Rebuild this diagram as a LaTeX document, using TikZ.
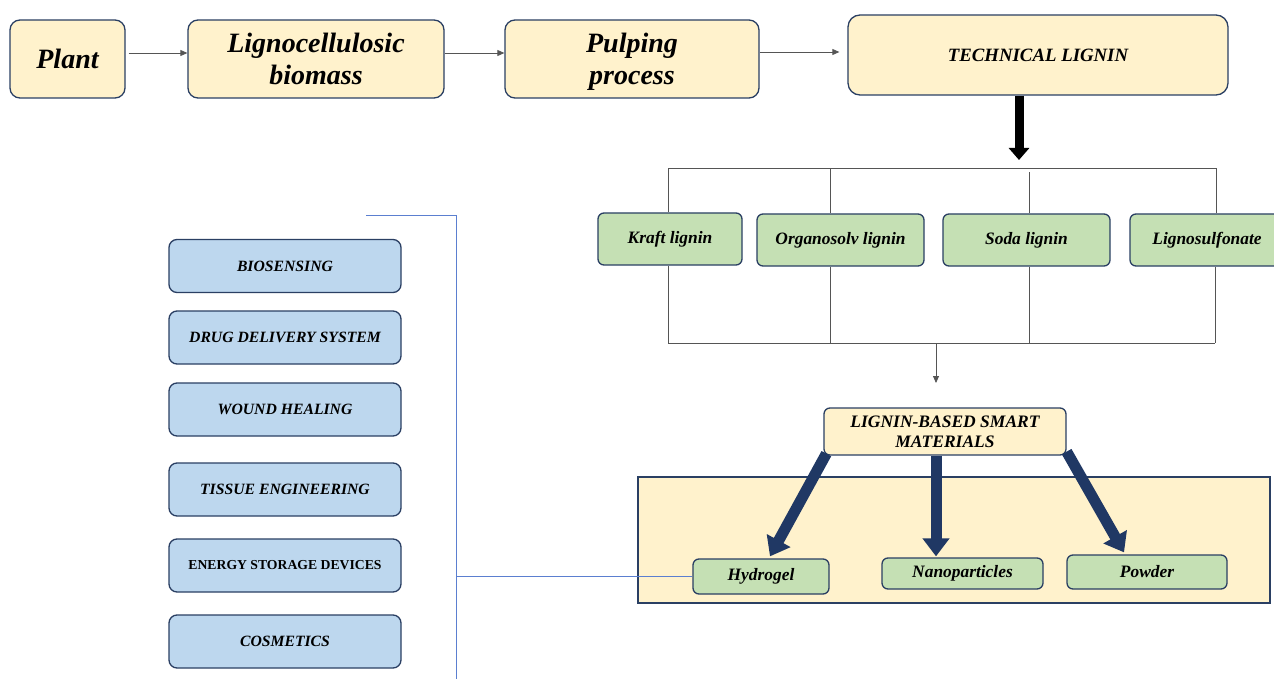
\documentclass[tikz,border=0pt]{standalone}
\usepackage{fontspec}
\setmainfont{Liberation Serif}
\usetikzlibrary{arrows.meta}
\definecolor{beige}{HTML}{FFF2CC}
\definecolor{greenf}{HTML}{C5E0B4}
\definecolor{bluef}{HTML}{BDD7EE}
\definecolor{navyb}{HTML}{2A3F63}
\definecolor{navyarr}{HTML}{203864}
\definecolor{blueline}{HTML}{5B7FD0}
\definecolor{grayline}{HTML}{555555}
\tikzset{
  base/.style={draw=navyb, line width=1.3pt, align=center, inner sep=2pt},
  topbox/.style={base, rounded corners=10pt, fill=beige, font=\bfseries\itshape\fontsize{28}{32}\selectfont},
  techbox/.style={base, rounded corners=12pt, fill=beige, font=\bfseries\itshape\fontsize{18.8}{22}\selectfont},
  greenbox/.style={base, rounded corners=6pt, fill=greenf, font=\bfseries\itshape\fontsize{17.4}{20}\selectfont},
  bluebox/.style={base, rounded corners=8pt, fill=bluef, minimum width=232pt, minimum height=53pt, font=\bfseries\itshape\fontsize{15.7}{18}\selectfont},
  smartbox/.style={base, rounded corners=6pt, fill=beige, font=\bfseries\itshape\fontsize{17.5}{20}\selectfont},
  thinarrow/.style={draw=grayline, line width=0.8pt, -{Triangle[width=6pt,length=7pt]}},
  bracketline/.style={draw=grayline, line width=0.8pt},
  blackarrow/.style={draw=black, line width=9pt, -{Triangle[width=20pt,length=12pt]}},
  navyarrow/.style={draw=navyarr, line width=11pt, -{Triangle[width=26pt,length=18pt]}},
  bluelinestyle/.style={draw=blueline, line width=0.8pt},
}
\begin{document}
\begin{tikzpicture}[x=1pt,y=-1pt]
\useasboundingbox (0,0) rectangle (1274,679);
% top row
\node[topbox, minimum width=115pt, minimum height=78pt] (plant) at (67.5,59) {Plant};
\node[topbox, minimum width=256pt, minimum height=78pt] (ligno) at (316,59) {Lignocellulosic\\biomass};
\node[topbox, minimum width=254pt, minimum height=78pt, text depth=0pt] (pulp) at (632,59) {Pulping\\process};
\node[techbox, minimum width=380pt, minimum height=80pt] (tech) at (1038,55) {TECHNICAL LIGNIN};
\draw[thinarrow] ([yshift=6pt,xshift=3pt]plant.east) -- ([yshift=6pt]ligno.west);
\draw[thinarrow] ([yshift=6pt]ligno.east) -- ([yshift=6pt]pulp.west);
\draw[thinarrow] ([yshift=7pt]pulp.east) -- ([yshift=3pt,xshift=-8pt]tech.west);
\coordinate (tarr) at (1019,160);
\draw[blackarrow] (tech.south -| tarr) -- (tarr);
% lignin types
\node[greenbox, minimum width=144pt, minimum height=52pt] (kraft) at (670,239) {Kraft lignin};
\node[greenbox, minimum width=167pt, minimum height=52pt] (organo) at (840.5,240) {Organosolv lignin};
\node[greenbox, minimum width=167pt, minimum height=52pt] (soda) at (1026.5,240) {Soda lignin};
\node[greenbox, minimum width=154pt, minimum height=52pt] (sulf) at (1207,240) {Lignosulfonate};
\coordinate (tl) at (668,168);
\coordinate (tr) at (1216,168);
\coordinate (bl) at (668,343);
\coordinate (br) at (1215,343);
\coordinate (v2) at (830,0);
\coordinate (v3) at (1029,0);
\draw[bracketline] (tl) -- (tr);
\draw[bracketline] (bl) -- (br);
\draw[bracketline] (kraft.north -| tl) -- (tl);
\draw[bracketline] (organo.north -| v2) -- (tl -| v2);
\draw[bracketline] (soda.north -| v3) -- ([yshift=-4pt]tl -| v3);
\draw[bracketline] (sulf.north -| tr) -- (tr);
\draw[bracketline] (kraft.south -| bl) -- (bl);
\draw[bracketline] (organo.south -| v2) -- (bl -| v2);
\draw[bracketline] (soda.south -| v3) -- (bl -| v3);
\draw[bracketline] (sulf.south -| br) -- (br);
\coordinate (mids) at (936,343);
\coordinate (mide) at (936,383);
\draw[thinarrow] (mids) -- (mide);
% smart materials
\node[smartbox, minimum width=242pt, minimum height=47pt] (smart) at (945,431.5) {LIGNIN-BASED SMART\\MATERIALS};
\draw[draw=navyb, line width=1.3pt, fill=beige] (638,477) rectangle (1270,603);
\node[greenbox, minimum width=136pt, minimum height=35pt] (hydro) at (761,576.5) {Hydrogel};
\node[greenbox, minimum width=161pt, minimum height=31pt] (nano) at (962.5,573.5) {Nanoparticles};
\node[greenbox, minimum width=160pt, minimum height=34pt] (powder) at (1147,572) {Powder};
\coordinate (marr) at (936,0);
\draw[navyarrow] ([xshift=3pt,yshift=2pt]smart.south west) -- ([xshift=9pt,yshift=2pt]hydro.north);
\draw[navyarrow] (smart.south -| marr) -- ([yshift=1pt]nano.north -| marr);
\draw[navyarrow] ([xshift=0pt,yshift=4pt]smart.south east) -- ([xshift=-23pt,yshift=2pt]powder.north);
% applications
\node[bluebox] (bio) at (285,266) {BIOSENSING};
\node[bluebox] (drug) at (285,337.5) {DRUG DELIVERY SYSTEM};
\node[bluebox] (wound) at (285,409.5) {WOUND HEALING};
\node[bluebox] (tissue) at (285,489.5) {TISSUE ENGINEERING};
\node[bluebox, font=\bfseries\fontsize{13.7}{16}\selectfont] (energy) at (285,565.5) {ENERGY STORAGE DEVICES};
\node[bluebox] (cosm) at (285,641.5) {COSMETICS};
\coordinate (b1) at (366,215);
\coordinate (b2) at (456,215);
\coordinate (b3) at (456,679);
\draw[bluelinestyle] (b1) -- (b2) -- (b3);
\draw[bluelinestyle] (hydro.west) -- (hydro.west -| b2);
\end{tikzpicture}
\end{document}
